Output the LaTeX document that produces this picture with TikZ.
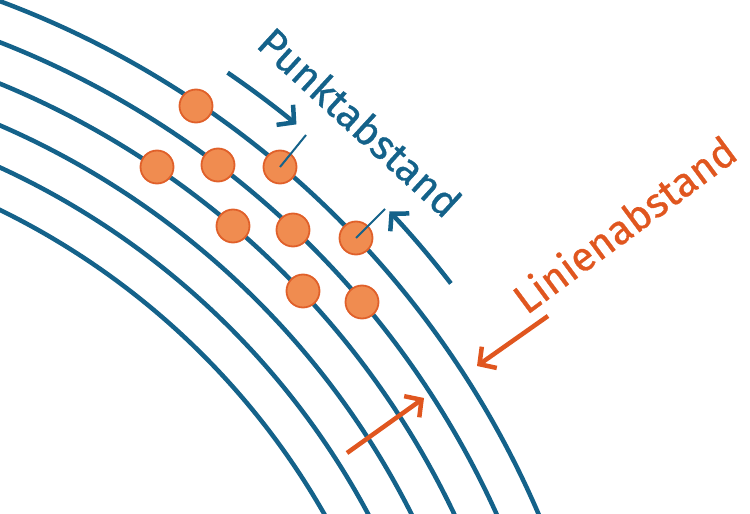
\documentclass[tikz,border=0pt]{standalone}
\usepackage{fontspec}
\setmainfont{Fira Sans}
\newfontfamily\lblfont{Fira Sans}[FakeBold=0.8]
\usetikzlibrary{arrows.meta,calc}
\definecolor{lblue}{HTML}{14628A}
\definecolor{dorange}{HTML}{E0561F}
\definecolor{dotfill}{HTML}{F08C50}
\definecolor{dotline}{HTML}{E0602A}
\tikzset{
  arcline/.style={draw=lblue,line width=4.5pt},
  dot/.style={circle,fill=dotfill,draw=dotline,line width=1.8pt,minimum size=33pt,inner sep=0pt},
  tick/.style={draw=lblue,line width=2pt},
  barrow/.style={draw=lblue,line width=4.5pt,-{Straight Barb[length=12pt,width=26pt,line width=4.5pt]}},
  oarrow/.style={draw=dorange,line width=4.5pt,-{Straight Barb[length=12pt,width=26pt,line width=4.5pt]}},
  lbl/.style={font=\lblfont\fontsize{41}{46}\selectfont}
}
\begin{document}
\begin{tikzpicture}[x=1pt,y=-1pt]
\useasboundingbox (0,0) rectangle (750,514);
\coordinate (C) at (-330,887);
\begin{scope}
\clip (0,0) rectangle (750,514);
\foreach \r in {945,906.6,868.2,829.8,791.4,753}
  \draw[arcline] (C) circle[radius=\r];
\end{scope}
% dots
\node[dot] (d1) at (196,106) {};
\node[dot] (d2) at (157,167) {};
\node[dot] (d3) at (218,165) {};
\node[dot] (d4) at (280,167) {};
\node[dot] (d5) at (233,226) {};
\node[dot] (d6) at (293,230) {};
\node[dot] (d7) at (356,238) {};
\node[dot] (d8) at (303,291) {};
\node[dot] (d9) at (362,302) {};
% ticks
\coordinate (t1) at (306,135);
\coordinate (t2) at (385,209);
\draw[tick] (d4.center) -- (t1);
\draw[tick] (d7.center) -- (t2);
% blue arrows
\draw[barrow] ($(C)+(-55.6:987)$) arc[start angle=-55.6,end angle=-50.6,radius=987];
\draw[barrow] ($(C)+(-37.7:987)$) arc[start angle=-37.7,end angle=-43.2,radius=987];
% orange arrows
\coordinate (o1) at (548,316);
\coordinate (o2) at (477,366);
\coordinate (o3) at (347,453);
\coordinate (o4) at (424,398);
\draw[oarrow] (o1) -- (o2);
\draw[oarrow] (o3) -- (o4);
% labels
\node[lbl,text=lblue,rotate=-42.5] (pk) at (360,122) {Punktabstand};
\node[lbl,text=dorange,rotate=36.5] (la) at (624,224) {Linienabstand};
\end{tikzpicture}
\end{document}
